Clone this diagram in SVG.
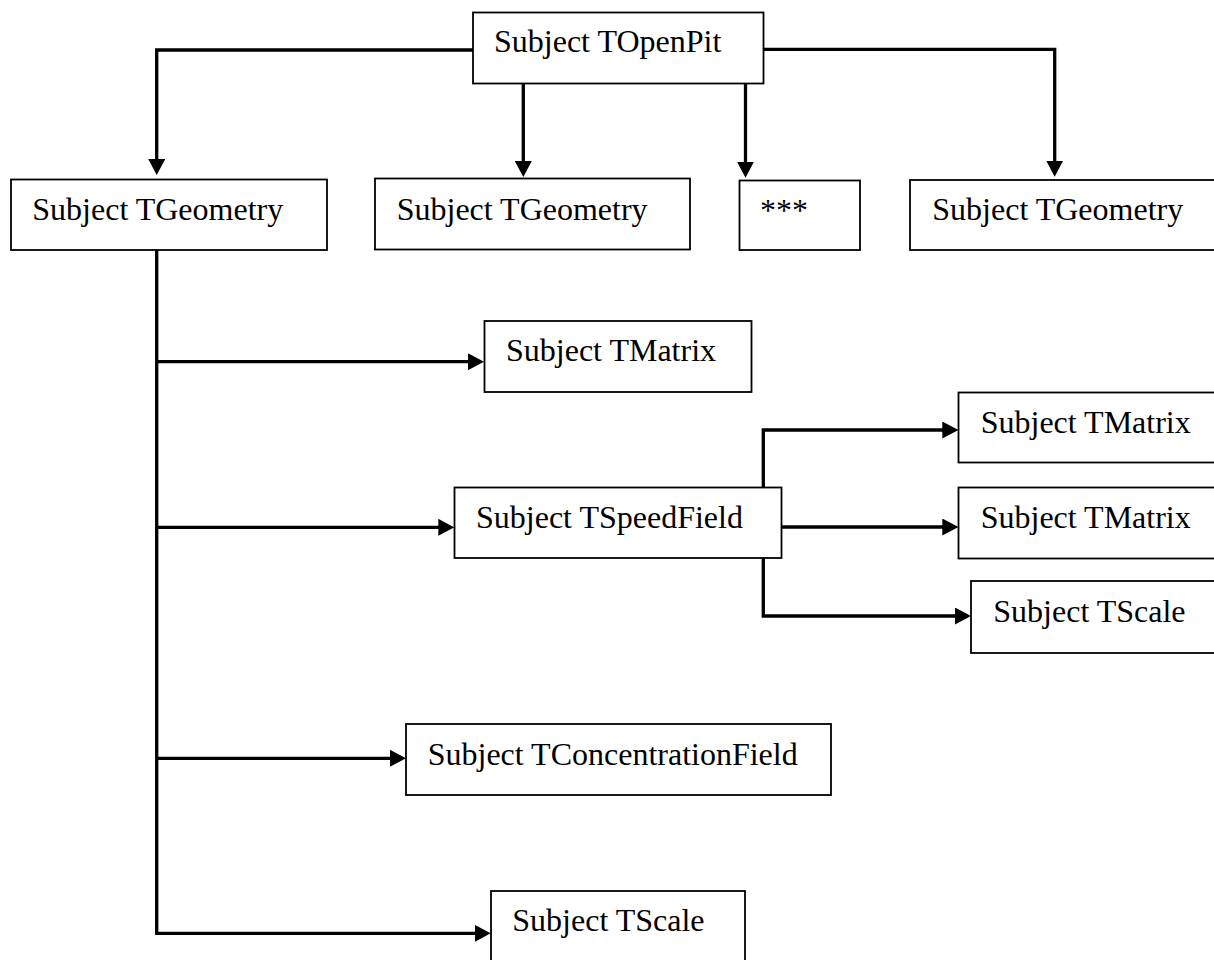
<svg xmlns="http://www.w3.org/2000/svg" width="1214" height="960" viewBox="0 0 1214 960">
<style>
.box{fill:#fff;stroke:#000;stroke-width:1.8}
.lbl{font-family:"Liberation Serif","Times New Roman",serif;font-size:32px;fill:#000}
.con{fill:none;stroke:#000;stroke-width:3.3;stroke-linejoin:miter}
</style>
<defs>
<marker id="arr" viewBox="0 0 16 17" refX="8" refY="8.5" markerWidth="16" markerHeight="17" markerUnits="userSpaceOnUse" orient="auto">
<path d="M0,0 L16,8.5 L0,17 z" fill="#000"/>
</marker>
</defs>
<rect width="1214" height="960" fill="#fff"/>
<g id="connectors">
<path class="con" d="M473,50 H156.7 V167" marker-end="url(#arr)"/>
<path class="con" d="M523.3,83.5 V169" marker-end="url(#arr)"/>
<path class="con" d="M745.5,83.5 V169.7" marker-end="url(#arr)"/>
<path class="con" d="M763.5,49.3 H1054.7 V168.7" marker-end="url(#arr)"/>
<path class="con" d="M156.7,250 V933.3 H482.7" marker-end="url(#arr)"/>
<path class="con" d="M156.7,361.7 H476" marker-end="url(#arr)"/>
<path class="con" d="M156.7,527.3 H446.3" marker-end="url(#arr)"/>
<path class="con" d="M156.7,758.3 H398" marker-end="url(#arr)"/>
<path class="con" d="M763.3,487.5 V430 H950.3" marker-end="url(#arr)"/>
<path class="con" d="M781.7,527 H950.3" marker-end="url(#arr)"/>
<path class="con" d="M763.3,557.7 V616 H963" marker-end="url(#arr)"/>
</g>
<g id="n-openpit"><rect class="box" x="473" y="12.5" width="290.5" height="71"/><text class="lbl" x="494" y="52.3">Subject TOpenPit</text></g>
<g id="n-geometry1"><rect class="box" x="11" y="179.5" width="316" height="70.5"/><text class="lbl" x="32.3" y="220">Subject TGeometry</text></g>
<g id="n-geometry2"><rect class="box" x="375" y="178.5" width="315" height="71"/><text class="lbl" x="396.7" y="220">Subject TGeometry</text></g>
<g id="n-etc"><rect class="box" x="739.5" y="180.5" width="120.5" height="69.5"/><text class="lbl" x="760" y="221">***</text></g>
<g id="n-geometry4"><rect class="box" x="910" y="180" width="306" height="70"/><text class="lbl" x="932.3" y="220">Subject TGeometry</text></g>
<g id="n-matrix1"><rect class="box" x="484.5" y="321" width="267" height="71"/><text class="lbl" x="506" y="360.7">Subject TMatrix</text></g>
<g id="n-speedfield"><rect class="box" x="454.5" y="487.5" width="327" height="70.5"/><text class="lbl" x="476" y="527.7">Subject TSpeedField</text></g>
<g id="n-matrix2"><rect class="box" x="958.5" y="392.5" width="258" height="70"/><text class="lbl" x="980.7" y="432.7">Subject TMatrix</text></g>
<g id="n-matrix3"><rect class="box" x="958.5" y="487.5" width="258" height="71"/><text class="lbl" x="980.7" y="528.3">Subject TMatrix</text></g>
<g id="n-scale1"><rect class="box" x="971" y="581" width="245" height="72"/><text class="lbl" x="993.3" y="621.7">Subject TScale</text></g>
<g id="n-concentration"><rect class="box" x="406" y="724" width="425" height="71"/><text class="lbl" x="427.7" y="765">Subject TConcentrationField</text></g>
<g id="n-scale2"><rect class="box" x="491" y="891" width="254" height="72"/><text class="lbl" x="512.3" y="931">Subject TScale</text></g>
</svg>
